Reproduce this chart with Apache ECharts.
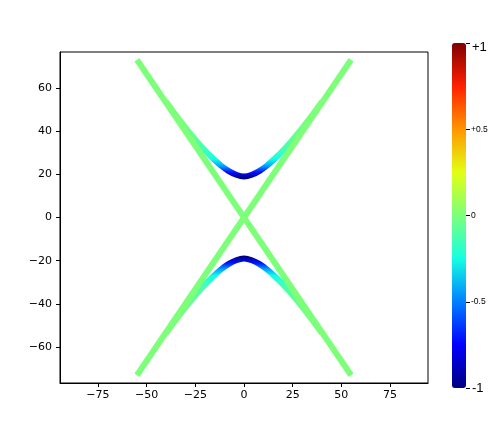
<!DOCTYPE html>
<html>
<head>
<meta charset="utf-8">
<script src="https://cdn.jsdelivr.net/npm/echarts@6/dist/echarts.min.js"></script>
<style>
  html, body { margin: 0; padding: 0; background: #fff; }
  #chart { width: 488px; height: 431px; }
</style>
</head>
<body>
<div id="chart"></div>
<script>
// asymptotes (the X)
const asymX = [-55, 55]
const asymDownY = [73, -73]
const asymUpY = [-73, 73]

// hyperbola branches (they run under the asymptotes past |x| = 32)
const hypX = [-40, -36, -32, -28, -24, -20, -16, -12, -8, -4, 0, 4, 8, 12, 16, 20, 24, 28, 32, 36, 40]
const hypUpperY = [53.6, 48.6, 43.8, 39.3, 35.0, 31.0, 27.4, 24.2, 21.6, 19.8, 19, 19.8, 21.6, 24.2, 27.4, 31.0, 35.0, 39.3, 43.8, 48.6, 53.6]
const hypLowerY = [-53.6, -48.6, -43.8, -39.3, -35.0, -31.0, -27.4, -24.2, -21.6, -19.8, -19, -19.8, -21.6, -24.2, -27.4, -31.0, -35.0, -39.3, -43.8, -48.6, -53.6]

// tick labels
const xTicks = [-75, -50, -25, 0, 25, 50, 75]
const yTicks = [-60, -40, -20, 0, 20, 40, 60]
const cbarLabels = { '1': '{top|+1}', '0.5': '{small|+0.5}', '0': '{small|0}', '-0.5': '{small|-0.5}', '-1': '{big|-1}' }

// jet colormap, evenly spaced from -1 to +1
const jet = ['#000080', '#0000ff', '#0080ff', '#15ffe2', '#7dff7a', '#e2ff14', '#ff9600', '#ff2100', '#800000']
// colour along the branches, from |y| = 15 up to |y| = 63 in steps of 3
const branchColors = ['#00007f', '#00007f', '#000fff', '#00a8ff', '#10ffe6', '#36ffc9', '#4affad', '#5bff9c',
  '#66ff8f', '#6eff88', '#73ff84', '#78ff80', '#7bff7c', '#7dff7a', '#7dff7a', '#7dff7a', '#7dff7a']

const green = '#7dff7a'
const font = 'DejaVu Sans'
const minus = v => String(v).replace('-', '\u2212')

const zip = (xs, ys) => xs.map((x, i) => [x, ys[i]])

const chart = echarts.init(document.getElementById('chart'))

chart.setOption({
  animation: false,
  backgroundColor: '#fff',
  grid: [
    { left: 60, top: 52, width: 368, height: 331, show: true, borderColor: '#000', borderWidth: 1, outerBoundsMode: 'none' },
    { left: 452, top: 43, width: 14, height: 345, outerBoundsMode: 'none' }
  ],
  xAxis: [
    {
      type: 'value',
      min: -94.5,
      max: 94.5,
      axisLine: { show: true, onZero: false, lineStyle: { color: '#000' } },
      axisTick: { show: true, length: 4, customValues: xTicks, lineStyle: { color: '#000' } },
      axisLabel: { customValues: xTicks, margin: 7, fontSize: 11, fontFamily: font, color: '#000', formatter: minus },
      splitLine: { show: false }
    },
    { type: 'value', gridIndex: 1, show: false, min: 0, max: 1 }
  ],
  yAxis: [
    {
      type: 'value',
      min: -76.6,
      max: 76.6,
      axisLine: { show: true, onZero: false, lineStyle: { color: '#000' } },
      axisTick: { show: true, length: 4, customValues: yTicks, lineStyle: { color: '#000' } },
      axisLabel: { customValues: yTicks, margin: 8, fontSize: 11, fontFamily: font, color: '#000', formatter: minus },
      splitLine: { show: false }
    },
    {
      type: 'value',
      gridIndex: 1,
      position: 'right',
      min: -1,
      max: 1,
      interval: 0.5,
      axisLine: { show: false, onZero: false },
      axisTick: { show: true, length: 4, inside: false, lineStyle: { color: '#000' } },
      axisLabel: {
        margin: 5,
        formatter: v => cbarLabels[String(v)],
        rich: {
          top: { fontSize: 13, fontFamily: 'Liberation Sans', color: '#000', padding: [8, 0, 0, 1] },
          big: { fontSize: 13, fontFamily: 'Liberation Sans', color: '#000', padding: [0, 0, 0, 1] },
          small: { fontSize: 8.5, fontFamily: 'Liberation Sans', color: '#000' }
        }
      },
      splitLine: { show: false }
    }
  ],
  visualMap: [
    {
      type: 'continuous',
      seriesIndex: 0,
      dimension: 1,
      show: false,
      min: 15,
      max: 63,
      inRange: { color: branchColors }
    },
    {
      type: 'continuous',
      seriesIndex: 1,
      dimension: 1,
      show: false,
      min: -63,
      max: -15,
      inRange: { color: branchColors.slice().reverse() }
    },
    {
      type: 'continuous',
      seriesIndex: [],
      min: -1,
      max: 1,
      left: 452,
      top: 43,
      padding: 0,
      itemWidth: 14,
      itemHeight: 345,
      calculable: false,
      hoverLink: false,
      text: null,
      showLabel: false,
      inRange: { color: jet }
    }
  ],
  series: [
    {
      type: 'line',
      data: zip(hypX, hypUpperY),
      smooth: 0.3,
      symbol: 'none',
      lineStyle: { width: 6 },
      z: 2
    },
    {
      type: 'line',
      data: zip(hypX, hypLowerY),
      smooth: 0.3,
      symbol: 'none',
      lineStyle: { width: 6 },
      z: 2
    },
    {
      type: 'line',
      data: zip(asymX, asymDownY),
      symbol: 'none',
      lineStyle: { width: 6, color: green },
      z: 3
    },
    {
      type: 'line',
      data: zip(asymX, asymUpY),
      symbol: 'none',
      lineStyle: { width: 6, color: green },
      z: 3
    }
  ]
})
</script>
</body>
</html>
